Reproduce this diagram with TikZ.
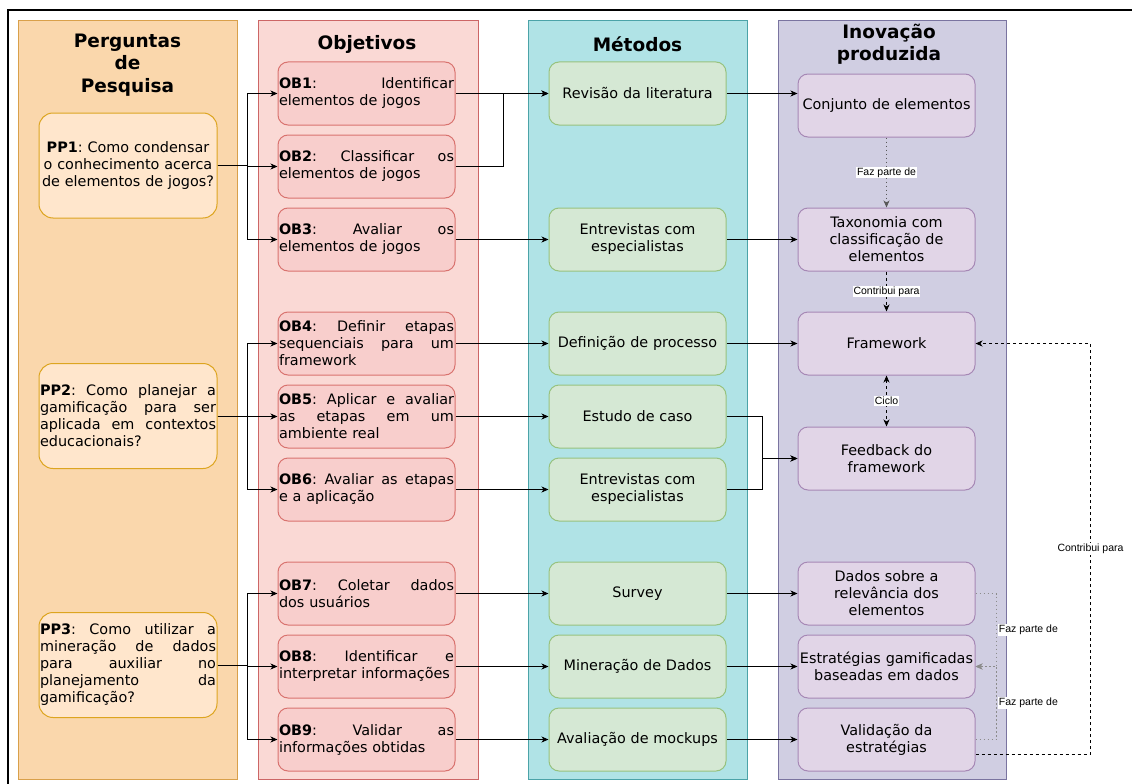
\documentclass[tikz,border=0pt]{standalone}
\usepackage{fontspec}
\setmainfont{DejaVu Sans}
\newfontfamily\labfont{Liberation Sans}
\usetikzlibrary{arrows.meta}
\definecolor{ppanelF}{HTML}{FAD7AC}
\definecolor{ppanelD}{HTML}{D9A04A}
\definecolor{ppboxF}{HTML}{FFE6CC}
\definecolor{ppboxD}{HTML}{DDA520}
\definecolor{opanelF}{HTML}{FAD9D5}
\definecolor{opanelD}{HTML}{CC6666}
\definecolor{oboxF}{HTML}{F8CECC}
\definecolor{oboxD}{HTML}{D9736F}
\definecolor{mpanelF}{HTML}{B0E3E6}
\definecolor{mpanelD}{HTML}{4BA3A8}
\definecolor{mboxF}{HTML}{D5E8D4}
\definecolor{mboxD}{HTML}{97C27E}
\definecolor{ipanelF}{HTML}{D0CEE2}
\definecolor{ipanelD}{HTML}{7A74A0}
\definecolor{iboxF}{HTML}{E1D5E7}
\definecolor{iboxD}{HTML}{A688B5}
\newcommand{\jl}[2][175pt]{\makebox[#1][s]{\spaceskip=0.32em plus 1fil\relax #2}}
\tikzset{
  panel/.style={line width=1pt, inner sep=0pt, minimum height=758pt},
  ttl/.style={font=\bfseries\fontsize{18.5}{22.5}\selectfont, align=center, inner sep=0pt},
  bx/.style={rounded corners=10pt, line width=1pt, inner sep=1pt, minimum width=177pt,
    minimum height=63pt, font=\frenchspacing\fontsize{14.4}{17}\selectfont},
  ppbox/.style={bx, rounded corners=14pt, fill=ppboxF, draw=ppboxD, minimum width=178pt,
    minimum height=105pt, text width=176pt},
  obbox/.style={bx, fill=oboxF, draw=oboxD, text width=175pt, align=left},
  mbox/.style={bx, fill=mboxF, draw=mboxD, text width=175pt, align=center},
  ibox/.style={bx, fill=iboxF, draw=iboxD, text width=175pt, align=center},
  arr/.style={line width=0.9pt, -{Stealth[length=7pt,width=6pt,inset=2pt]}},
  dasharr/.style={arr, dash pattern=on 3pt off 3pt},
  dotarr/.style={arr, dash pattern=on 1.5pt off 2.5pt, draw=black!65},
  dasharrs/.style={line width=0.9pt, dash pattern=on 3pt off 3pt,
    {Stealth[length=7pt,width=6pt,inset=2pt]}-{Stealth[length=7pt,width=6pt,inset=2pt]}},
  lbl/.style={font=\labfont\fontsize{10.5}{12}\selectfont, fill=white, inner sep=1pt, text=black},
}
\begin{document}
\begin{tikzpicture}[x=1pt,y=-1pt]
\useasboundingbox (0,0) rectangle (1132,784);
\draw[line width=1.3pt] (8,784) -- (8,10) -- (1132,10);

% panels
\node[panel, fill=ppanelF, draw=ppanelD, minimum width=219pt] (P1) at (127.5,400) {};
\node[panel, fill=opanelF, draw=opanelD, minimum width=220pt] (P2) at (368,400) {};
\node[panel, fill=mpanelF, draw=mpanelD, minimum width=219pt] (P3) at (637.5,400) {};
\node[panel, fill=ipanelF, draw=ipanelD, minimum width=228pt] (P4) at (892,400) {};

% titles
\node[ttl] (T1) at (127.5,65) {Perguntas\\de\\Pesquisa};
\node[ttl] (T2) at (367,44) {Objetivos};
\node[ttl] (T3) at (637.5,44) {Métodos};
\node[ttl, font=\bfseries\fontsize{18.5}{21.5}\selectfont] (T4) at (889,44) {Inovação\\produzida};

% research questions
\node[ppbox, align=center] (PP1) at (128,165.5) {\textbf{PP1}: Como condensar\\o conhecimento acerca\\de elementos de jogos?};
\node[ppbox, align=left] (PP2) at (128,416) {\jl[176pt]{\textbf{PP2}: Como planejar a}\\\jl[176pt]{gamificação para ser}\\\jl[176pt]{aplicada em contextos}\\educacionais?};
\node[ppbox, align=left] (PP3) at (128,665) {\jl[176pt]{\textbf{PP3}: Como utilizar a}\\\jl[176pt]{mineração de dados}\\\jl[176pt]{para auxiliar no}\\\jl[176pt]{planejamento da}\\gamificação?};

% objectives
\node[obbox] (OB1) at (366.5,93.5) {\jl{\textbf{OB1}: Identificar}\\elementos de jogos};
\node[obbox] (OB2) at (366.5,166.5) {\jl{\textbf{OB2}: Classificar os}\\elementos de jogos};
\node[obbox] (OB3) at (366.5,239.5) {\jl{\textbf{OB3}: Avaliar os}\\elementos de jogos};
\node[obbox] (OB4) at (366.5,343.5) {\jl{\textbf{OB4}: Definir etapas}\\\jl{sequenciais para um}\\framework};
\node[obbox] (OB5) at (366.5,416.5) {\jl{\textbf{OB5}: Aplicar e avaliar}\\\jl{as etapas em um}\\ambiente real};
\node[obbox] (OB6) at (366.5,489.5) {\jl{\textbf{OB6}: Avaliar as etapas}\\e a aplicação};
\node[obbox] (OB7) at (366.5,593.5) {\jl{\textbf{OB7}: Coletar dados}\\dos usuários};
\node[obbox] (OB8) at (366.5,666.5) {\jl{\textbf{OB8}: Identificar e}\\interpretar informações};
\node[obbox] (OB9) at (366.5,739.5) {\jl{\textbf{OB9}: Validar as}\\informações obtidas};

% methods
\node[mbox] (M1) at (637.5,93.5) {Revisão da literatura};
\node[mbox] (M2) at (637.5,239.5) {Entrevistas com\\especialistas};
\node[mbox] (M3) at (637.5,343.5) {Definição de processo};
\node[mbox] (M4) at (637.5,416.5) {Estudo de caso};
\node[mbox] (M5) at (637.5,489.5) {Entrevistas com\\especialistas};
\node[mbox] (M6) at (637.5,593.5) {Survey};
\node[mbox] (M7) at (637.5,666.5) {Mineração de Dados};
\node[mbox] (M8) at (637.5,739.5) {Avaliação de mockups};

% innovation
\node[ibox] (I1) at (886.5,105.5) {Conjunto de elementos};
\node[ibox] (I2) at (886.5,239.5) {Taxonomia com\\classificação de\\elementos};
\node[ibox] (I3) at (886.5,343.5) {Framework};
\node[ibox] (I4) at (886.5,458.5) {Feedback do\\framework};
\node[ibox] (I5) at (886.5,593.5) {Dados sobre a\\relevância dos\\elementos};
\node[ibox] (I6) at (886.5,666.5) {Estratégias gamificadas\\baseadas em dados};
\node[ibox] (I7) at (886.5,739.5) {Validação da\\estratégias};

% PP -> OB
\draw[arr] (PP1.east) -- ++(30,0) |- (OB1.west);
\draw[arr] (PP1.east) -- ++(30,0) |- (OB2.west);
\draw[arr] (PP1.east) -- ++(30,0) |- (OB3.west);
\draw[arr] (PP2.east) -- ++(30,0) |- (OB4.west);
\draw[arr] (PP2.east) -- ++(30,0) |- (OB5.west);
\draw[arr] (PP2.east) -- ++(30,0) |- (OB6.west);
\draw[arr] (PP3.east) -- ++(30,0) |- (OB7.west);
\draw[arr] (PP3.east) -- ++(30,0) |- (OB8.west);
\draw[arr] (PP3.east) -- ++(30,0) |- (OB9.west);

% OB -> M
\draw[arr] (OB1.east) -- (M1.west);
\draw[arr] (OB2.east) -- ++(48,0) |- (M1.west);
\draw[arr] (OB3.east) -- (M2.west);
\draw[arr] (OB4.east) -- (M3.west);
\draw[arr] (OB5.east) -- (M4.west);
\draw[arr] (OB6.east) -- (M5.west);
\draw[arr] (OB7.east) -- (M6.west);
\draw[arr] (OB8.east) -- (M7.west);
\draw[arr] (OB9.east) -- (M8.west);

% M -> I
\draw[arr] (M1.east) -- (M1.east -| I1.west);
\draw[arr] (M2.east) -- (I2.west);
\draw[arr] (M3.east) -- (I3.west);
\draw[arr] (M4.east) -- ++(36,0) |- (I4.west);
\draw[arr] (M5.east) -- ++(36,0) |- (I4.west);
\draw[arr] (M6.east) -- (I5.west);
\draw[arr] (M7.east) -- (I6.west);
\draw[arr] (M8.east) -- (I7.west);

% I -> I
\draw[dotarr] (I1.south) -- node[lbl] (L1) {Faz parte de} (I2.north);
\draw[dasharr] (I2.south) -- node[lbl] (L2) {Contribui para} (I3.north);
\draw[dasharrs] (I3.south) -- node[lbl] (L3) {Ciclo} (I4.north);
\draw[dotarr, draw=black!45] (I5.east) -- ++(21,0) |- node[lbl, pos=0.25, anchor=west, xshift=1pt] (L4) {Faz parte de} (I6.east);
\draw[dotarr, draw=black!45] (I7.east) -- ++(21,0) |- node[lbl, pos=0.25, anchor=west, xshift=1pt] (L5) {Faz parte de} (I6.east);
\draw[dasharr] ([yshift=-14.5pt]I7.east) -- ++(115,0) |- node[lbl, pos=0.25] (L6) {Contribui para} (I3.east);
\end{tikzpicture}
\end{document}
